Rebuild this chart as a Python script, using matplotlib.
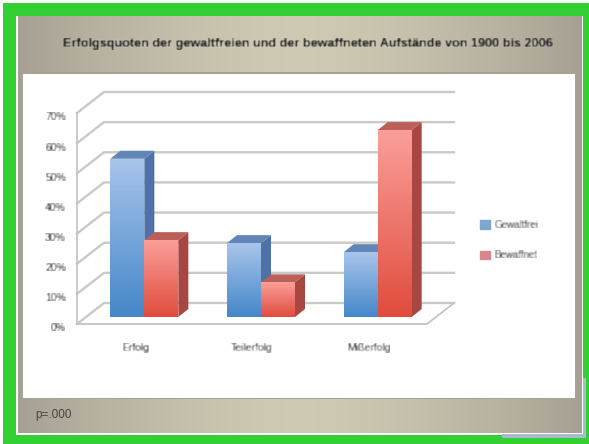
import numpy as np
import matplotlib
matplotlib.use('Agg')
import matplotlib.pyplot as plt
from matplotlib.patches import Rectangle, Polygon, Patch
from matplotlib.transforms import ScaledTranslation

categories = ['Erfolg', 'Teilerfolg', 'Mißerfolg']
gewaltfrei = [52.5, 24.5, 21.5]
bewaffnet = [25.5, 11.5, 62]
y_ticks = [0, 10, 20, 30, 40, 50, 60, 70]
y_labels = ['0%', '10%', '20%', '30%', '40%', '50%', '60%', '70%']
series_names = ['Gewaltfrei', 'Bewaffnet']
title = 'Erfolgsquoten der gewaltfreien und der bewaffneten Aufstände von 1900 bis 2006'
note = 'p=.000'

W, H = 589, 444
GREEN = '#32d032'
plt.rcParams['font.family'] = ['Liberation Sans', 'DejaVu Sans']


def blur(arr, dpi):
    # soft text, the reference is a low res jpeg
    k = np.array([1, 2, 1]) / 4
    out = np.apply_along_axis(lambda m: np.convolve(m, k, mode='same'), 0, arr)
    out = np.apply_along_axis(lambda m: np.convolve(m, k, mode='same'), 1, out)
    return out, 0, 0


fig = plt.figure(figsize=(W / 100, H / 100), dpi=100, facecolor='white')

# background in pixel coordinates
bg = fig.add_axes([0, 0, 1, 1])
bg.set_xlim(0, W)
bg.set_ylim(H, 0)
bg.axis('off')
bg.add_patch(Rectangle((3, 3), W - 3, H - 3, color=GREEN, lw=0))
bg.add_patch(Rectangle((15.5, 16), 567, 418.5, color='white', lw=0))
bg.add_patch(Rectangle((502, 434), 84, 4, color='#a9bccb', lw=0))
bg.add_patch(Rectangle((583, 378), 3, 60, color='#a9bccb', lw=0))
t = np.linspace(-1, 1, 300)
shade = 1 - np.abs(t) ** 1.6
grad = np.zeros((1, 300, 3))
for c, (a, b) in enumerate(zip((0.65, 0.63, 0.58), (0.81, 0.79, 0.70))):
    grad[0, :, c] = a + (b - a) * shade
bg.imshow(grad, extent=(18, 582, 433, 17), aspect='auto', zorder=2)
bg.set_xlim(0, W)
bg.set_ylim(H, 0)
bg.add_patch(Rectangle((21, 72), 555, 327, color='#a5a398', lw=0, zorder=3))
bg.add_patch(Rectangle((23, 74), 552, 324, color='white', lw=0, zorder=4))

tt = bg.text(63, 44, title, fontsize=9.1, fontweight='bold', color='#111111', va='center', zorder=5)
tt.set_agg_filter(blur)
bg.text(35, 415, note, fontsize=8.5, color='#444444', va='center', zorder=5)

# chart, axes = front plane of the 3d box
PX_X = 350 / 3
PX_Y = 211 / 70
ax = fig.add_axes([77 / W, (H - 324) / H, 350 / W, 211 / H])
ax.patch.set_alpha(0)
ax.set_xlim(0, 3)
ax.set_ylim(0, 70)
for s in ax.spines.values():
    s.set_visible(False)

depth_x = 27 / PX_X
depth_y = 21 / PX_Y
grid_col = '#c9c9c5'
for v in y_ticks:
    ax.plot([0, depth_x, 3 + depth_x], [v, v + depth_y, v + depth_y], color=grid_col, lw=1.7, clip_on=False, zorder=1)
ax.plot([0, 0], [0, 70], color='#c2c2be', lw=1.2, clip_on=False, zorder=1)
ax.plot([0, 3, 3 + depth_x], [0, 0, depth_y], color='#c4c4c0', lw=1.3, clip_on=False, zorder=1)

bar_w = 34 / PX_X
shift = 9 / PX_X
base = 7 / PX_Y
bar_dx = 10 / PX_X
bar_dy = 8 / PX_Y


def draw_bar(x, val, top_col, bot_col, side_col, lid_col, z):
    top = base + val
    ax.add_patch(Polygon([(x + bar_w, base), (x + bar_w + bar_dx, base + bar_dy),
                          (x + bar_w + bar_dx, top + bar_dy), (x + bar_w, top)],
                         color=side_col, lw=0, zorder=z, clip_on=False))
    ax.add_patch(Polygon([(x, top), (x + bar_dx, top + bar_dy), (x + bar_w + bar_dx, top + bar_dy),
                          (x + bar_w, top)], color=lid_col, lw=0, zorder=z, clip_on=False))
    b = ax.bar(x, val, bottom=base, width=bar_w, align='edge', color=bot_col, lw=0, zorder=z + 0.1)[0]
    g = np.linspace(0, 1, 64)[:, None, None]
    img = np.array(top_col)[None, None, :] * (1 - g) + np.array(bot_col)[None, None, :] * g
    im = ax.imshow(img, extent=(x, x + bar_w, base, top), aspect='auto', zorder=z + 0.2)
    im.set_clip_path(b)


blue = ((0.66, 0.77, 0.92), (0.27, 0.53, 0.79), '#4c72a8', '#6285b8')
red = ((0.98, 0.62, 0.60), (0.88, 0.30, 0.24), '#a84642', '#bb5f5b')
for i in range(len(categories)):
    x0 = i + 0.5 + shift
    draw_bar(x0 - bar_w, gewaltfrei[i], *blue, 3)
    draw_bar(x0, bewaffnet[i], *red, 4)
ax.set_xlim(0, 3)
ax.set_ylim(0, 70)

ax.set_yticks(y_ticks, y_labels, fontsize=7.5, color='#111111')
ax.set_xticks([0.5, 1.5, 2.5], categories, fontsize=7.5, color='#111111')
ax.tick_params(axis='y', length=0, pad=8)
ax.tick_params(axis='x', length=0, pad=14)
down = ScaledTranslation(0, -2.5 / 72, fig.dpi_scale_trans)
for lab in ax.get_yticklabels():
    lab.set_transform(lab.get_transform() + down)
for lab in ax.get_xticklabels() + ax.get_yticklabels():
    lab.set_agg_filter(blur)

handles = [Patch(color='#7fa6cf'), Patch(color='#d9858d')]
leg = ax.legend(handles, series_names, loc='center left', bbox_to_anchor=(480 / W, (H - 240) / H),
                bbox_transform=fig.transFigure, frameon=False, fontsize=7, labelspacing=2.1,
                handlelength=1.0, handleheight=1.0, handletextpad=0.5, borderpad=0, borderaxespad=0)
for lab in leg.get_texts():
    lab.set_color('#222222')
    lab.set_agg_filter(blur)

fig.savefig('out.png', dpi=100)
